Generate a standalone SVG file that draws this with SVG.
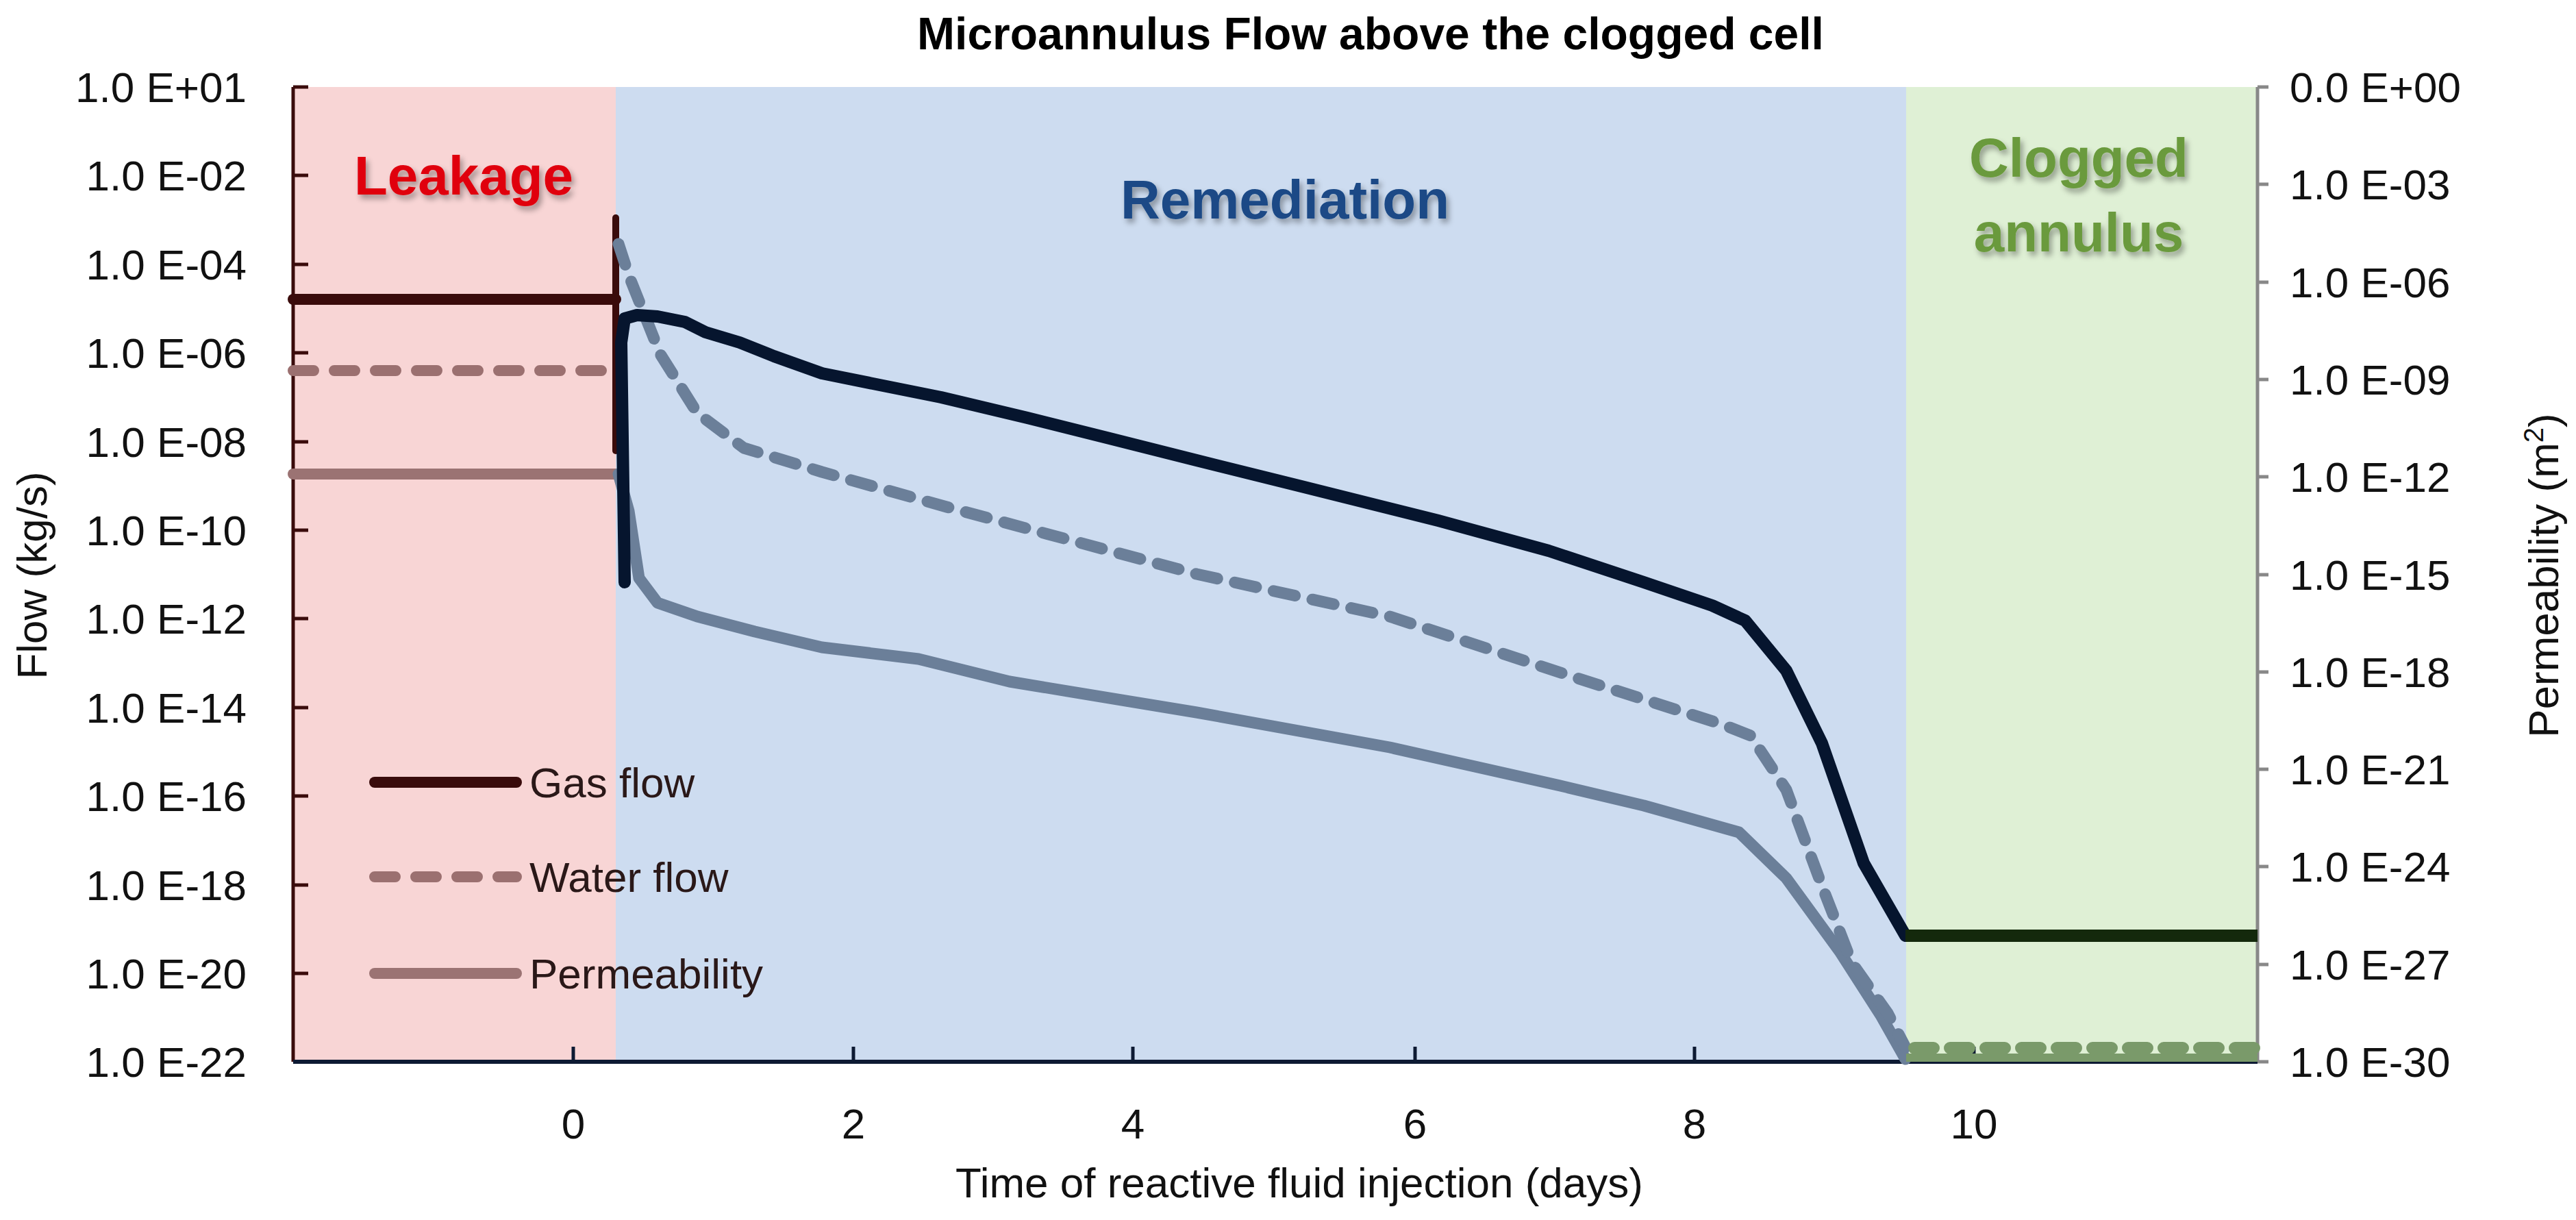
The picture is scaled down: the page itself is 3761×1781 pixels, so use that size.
<svg xmlns="http://www.w3.org/2000/svg" width="3761" height="1781" viewBox="0 0 3761 1781">
<style>
.t{font-family:"Liberation Sans",Arial,sans-serif;font-size:62px;fill:#111}
.ly{text-anchor:end}
.bold{font-family:"Liberation Sans",Arial,sans-serif;font-weight:bold}
.ln{fill:none;stroke-linejoin:round;stroke-linecap:round}
</style>
<defs>
<filter id="sh" x="-10%" y="-10%" width="130%" height="140%"><feGaussianBlur in="SourceAlpha" stdDeviation="4"/><feOffset dx="4" dy="6"/><feComponentTransfer><feFuncA type="linear" slope="0.35"/></feComponentTransfer><feMerge><feMergeNode/><feMergeNode in="SourceGraphic"/></feMerge></filter>
</defs>
<rect width="3761" height="1781" fill="#fff"/>
<g id="regions">
<rect x="428" y="127" width="471" height="1423" fill="#f8d5d5"/>
<rect x="899" y="127" width="1884" height="1423" fill="#cddcf0"/>
<rect x="2783" y="127" width="513" height="1423" fill="#dff0d5"/>
</g>
<text class="bold" x="2001" y="72" font-size="66" text-anchor="middle" fill="#000">Microannulus Flow above the clogged cell</text>
<g id="labels-regions" class="bold" text-anchor="middle" filter="url(#sh)">
<text x="677" y="284" font-size="80" fill="#e00010">Leakage</text>
<text x="1876" y="319" font-size="80" fill="#1a4a86">Remediation</text>
<text x="3035" y="258" font-size="80" fill="#6a9a3c">Clogged</text>
<text x="3035" y="367" font-size="80" fill="#6a9a3c">annulus</text>
</g>
<g id="axes">
<line x1="428" y1="127" x2="428" y2="1550" stroke="#3a0b0b" stroke-width="5"/>
<line x1="3296" y1="127" x2="3296" y2="1550" stroke="#888" stroke-width="5"/>
<line x1="428" y1="1550" x2="3296" y2="1550" stroke="#0d1a33" stroke-width="6"/>
<g stroke="#3a0b0b" stroke-width="5">
<line x1="428" y1="127" x2="450" y2="127"/><line x1="428" y1="256" x2="450" y2="256"/><line x1="428" y1="386" x2="450" y2="386"/><line x1="428" y1="515" x2="450" y2="515"/><line x1="428" y1="645" x2="450" y2="645"/><line x1="428" y1="774" x2="450" y2="774"/><line x1="428" y1="903" x2="450" y2="903"/><line x1="428" y1="1033" x2="450" y2="1033"/><line x1="428" y1="1162" x2="450" y2="1162"/><line x1="428" y1="1292" x2="450" y2="1292"/><line x1="428" y1="1421" x2="450" y2="1421"/>
</g>
<g stroke="#888" stroke-width="5">
<line x1="3296" y1="127" x2="3312" y2="127"/><line x1="3296" y1="269" x2="3312" y2="269"/><line x1="3296" y1="412" x2="3312" y2="412"/><line x1="3296" y1="554" x2="3312" y2="554"/><line x1="3296" y1="696" x2="3312" y2="696"/><line x1="3296" y1="839" x2="3312" y2="839"/><line x1="3296" y1="981" x2="3312" y2="981"/><line x1="3296" y1="1123" x2="3312" y2="1123"/><line x1="3296" y1="1265" x2="3312" y2="1265"/><line x1="3296" y1="1408" x2="3312" y2="1408"/><line x1="3296" y1="1550" x2="3312" y2="1550"/>
</g>
<g stroke="#0d1a33" stroke-width="5">
<line x1="837" y1="1550" x2="837" y2="1528"/><line x1="1246" y1="1550" x2="1246" y2="1528"/><line x1="1654" y1="1550" x2="1654" y2="1528"/><line x1="2066" y1="1550" x2="2066" y2="1528"/><line x1="2474" y1="1550" x2="2474" y2="1528"/><line x1="2882" y1="1550" x2="2882" y2="1528"/>
</g>
</g>
<g id="ticklabels" class="t">
<g class="ly">
<text x="360" y="149">1.0 E+01</text><text x="360" y="278">1.0 E-02</text><text x="360" y="408">1.0 E-04</text><text x="360" y="537">1.0 E-06</text><text x="360" y="667">1.0 E-08</text><text x="360" y="796">1.0 E-10</text><text x="360" y="925">1.0 E-12</text><text x="360" y="1055">1.0 E-14</text><text x="360" y="1184">1.0 E-16</text><text x="360" y="1314">1.0 E-18</text><text x="360" y="1443">1.0 E-20</text><text x="360" y="1572">1.0 E-22</text>
</g>
<text x="3343" y="149">0.0 E+00</text><text x="3343" y="291">1.0 E-03</text><text x="3343" y="434">1.0 E-06</text><text x="3343" y="576">1.0 E-09</text><text x="3343" y="718">1.0 E-12</text><text x="3343" y="861">1.0 E-15</text><text x="3343" y="1003">1.0 E-18</text><text x="3343" y="1145">1.0 E-21</text><text x="3343" y="1287">1.0 E-24</text><text x="3343" y="1430">1.0 E-27</text><text x="3343" y="1572">1.0 E-30</text>
<g text-anchor="middle">
<text x="837" y="1662">0</text><text x="1246" y="1662">2</text><text x="1654" y="1662">4</text><text x="2066" y="1662">6</text><text x="2474" y="1662">8</text><text x="2882" y="1662">10</text>
</g>
<text x="1897" y="1748" text-anchor="middle">Time of reactive fluid injection (days)</text>
<text transform="translate(68,840) rotate(-90)" text-anchor="middle">Flow (kg/s)</text>
<text transform="translate(3735,840) rotate(-90)" text-anchor="middle">Permeability (m<tspan font-size="40" dy="-22">2</tspan><tspan dy="22">)</tspan></text>
</g>
<g id="connectors">
<line class="ln" x1="428" y1="437" x2="899" y2="437" stroke="#3a0b0b" stroke-width="16"/>
<line class="ln" x1="428" y1="541" x2="899" y2="541" stroke="#9b7070" stroke-width="16" stroke-dasharray="30 30"/>
<line class="ln" x1="428" y1="692" x2="899" y2="692" stroke="#9b7373" stroke-width="16"/>
<line class="ln" x1="899" y1="318" x2="899" y2="658" stroke="#3a0b0b" stroke-width="10"/>
<path class="ln" d="M903,692 L918,746 L933,844 L960,880 L1018,900 L1102,922 L1200,945 L1341,962 L1474,995 L1747,1040 L2029,1091 L2278,1147 L2400,1176 L2539,1215 L2608,1282 L2686,1389 L2747,1484 L2782,1546" stroke="#6b7f99" stroke-width="17"/>
<path class="ln" d="M903,356 L918,402 L964,517 L1018,603 L1086,654 L1200,689 L1382,740 L1747,838 L2029,900 L2303,990 L2513,1057 L2556,1074 L2608,1153 L2660,1293 L2704,1406 L2756,1479 L2782,1529" stroke="#6b7f99" stroke-width="17" stroke-dasharray="32 26"/>
<line x1="2783" y1="1544" x2="3296" y2="1544" stroke="#7a9a6a" stroke-width="12"/>
<line class="ln" x1="2795" y1="1530" x2="3296" y2="1530" stroke="#7a9a6a" stroke-width="18" stroke-dasharray="28 24"/>
<path class="ln" d="M912,850 L907,500 L912,465 L930,460 L960,462 L1000,470 L1030,485 L1080,500 L1130,520 L1200,545 L1374,580 L1500,610 L1620,640 L1747,672 L1900,710 L2100,760 L2261,804 L2400,850 L2500,884 L2548,906 L2608,979 L2660,1085 L2721,1260 L2782,1366" stroke="#06152e" stroke-width="18"/>
<line x1="2782" y1="1366" x2="3296" y2="1366" stroke="#14290c" stroke-width="18"/>
</g>
<g id="legend">
<line class="ln" x1="547" y1="1142" x2="754" y2="1142" stroke="#3a0b0b" stroke-width="16"/>
<line class="ln" x1="547" y1="1280" x2="754" y2="1280" stroke="#9b7070" stroke-width="16" stroke-dasharray="30 30"/>
<line class="ln" x1="547" y1="1421" x2="754" y2="1421" stroke="#9b7373" stroke-width="16"/>
<g class="t" style="fill:#2a1818">
<text x="773" y="1164">Gas flow</text><text x="773" y="1302">Water flow</text><text x="773" y="1443">Permeability</text>
</g>
</g>
</svg>
